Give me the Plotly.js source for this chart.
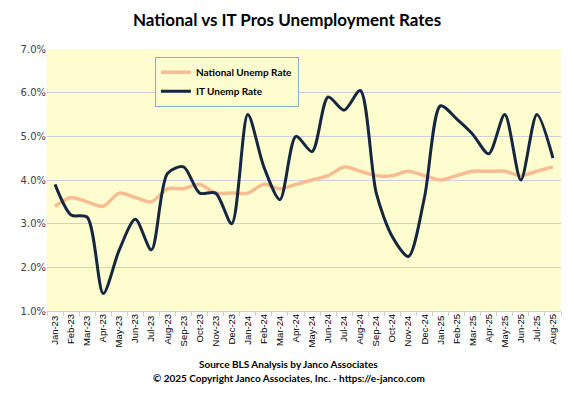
<!DOCTYPE html>
<html><head><meta charset="utf-8">
<script src="https://cdn.plot.ly/plotly-3.0.1.min.js"></script>
<style>html,body{margin:0;padding:0;background:#fff}</style>
</head><body><div id="chart" style="width:574px;height:397px"></div>
<script>
const months = ["Jan-23","Feb-23","Mar-23","Apr-23","May-23","Jun-23","Jul-23","Aug-23","Sep-23","Oct-23","Nov-23","Dec-23",
"Jan-24","Feb-24","Mar-24","Apr-24","May-24","Jun-24","Jul-24","Aug-24","Sep-24","Oct-24","Nov-24","Dec-24",
"Jan-25","Feb-25","Mar-25","Apr-25","May-25","Jun-25","Jul-25","Aug-25"];
const nationalRate = [3.4,3.6,3.5,3.4,3.7,3.6,3.5,3.8,3.8,3.9,3.7,3.7,
3.7,3.9,3.8,3.9,4.0,4.1,4.3,4.2,4.1,4.1,4.2,4.1,
4.0,4.1,4.2,4.2,4.2,4.1,4.2,4.3];
const itRate = [3.9,3.2,3.15,1.4,2.4,3.1,2.4,4.15,4.3,3.7,3.7,3.0,
5.5,4.3,3.55,5.0,4.65,5.9,5.6,6.05,3.7,2.7,2.25,3.6,
5.7,5.4,5.05,4.6,5.5,4.0,5.5,4.5];

const idx = months.map((m, i) => i);
const evenIdx = idx.filter(i => i % 2 === 0);
const oddIdx = idx.filter(i => i % 2 === 1);
const traces = [
 {x: idx, y: nationalRate, name: "<b>National Unemp Rate</b>", type: "scatter", mode: "lines", xaxis: "x",
  line: {color: "#F7BC92", width: 3.5, shape: "spline", smoothing: 0.8}},
 {x: idx, y: itRate, name: "<b>IT Unemp Rate</b>", type: "scatter", mode: "lines", xaxis: "x2",
  line: {color: "#142640", width: 3, shape: "spline", smoothing: 0.8}}
];
const tickFont = {family: "'Liberation Sans', Arial, sans-serif", size: 9.5, color: "#000"};
const layout = {
 width: 574, height: 397,
 margin: {l: 47, r: 13, t: 49, b: 86},
 paper_bgcolor: "#ffffff", plot_bgcolor: "#FEFDCF",
 title: {text: "<b>National vs IT Pros Unemployment Rates</b>", x: 0.5, xanchor: "center", y: 0.95, yanchor: "middle",
  font: {family: "Lato, 'Open Sans', sans-serif", size: 17, color: "#000"}},
 showlegend: true,
 legend: {x: 0.21, y: 0.97, xanchor: "left", yanchor: "top", bgcolor: "#FEFDCF", bordercolor: "#8FA9D6", borderwidth: 1,
  font: {family: "Lato, sans-serif", size: 10, color: "#000"}, tracegroupgap: 0, itemwidth: 30, traceorder: "normal"},
 xaxis: {type: "linear", tickmode: "array", tickvals: evenIdx, ticktext: evenIdx.map(i => months[i]), tickangle: -90, showgrid: false,
  showline: true, linecolor: "#d0d0d0", zeroline: false,
  ticks: "", range: [-0.5, 31.5],
  minor: {tickmode: "linear", tick0: 0.5, dtick: 1, ticks: "outside", ticklen: 4, tickcolor: "#d0d0d0", showgrid: false},
  tickfont: tickFont},
 xaxis2: {type: "linear", overlaying: "x", side: "bottom", matches: "x", tickmode: "array", tickvals: oddIdx, ticktext: oddIdx.map(i => months[i]),
  tickangle: -90, showgrid: false, showline: false, zeroline: false, ticks: "", range: [-0.5, 31.5],
  tickfont: tickFont},
 yaxis: {range: [1, 7], dtick: 1, tickformat: ".1f", ticksuffix: "%", showgrid: true, gridcolor: "#CFCFDB", gridwidth: 1,
  zeroline: false, showline: false, ticks: "",
  tickfont: {family: "'DejaVu Sans', sans-serif", size: 10, color: "#404040"}},
 annotations: [
  {text: "<b>Source BLS Analysis by Janco Associates</b>", xref: "paper", yref: "paper", x: 0.47, y: -0.2, yshift: -1,
   xanchor: "center", yanchor: "middle", showarrow: false, font: {family: "Lato, sans-serif", size: 10, color: "#000"}},
  {text: "<b>© 2025 Copyright Janco Associates, Inc. - https://e-janco.com</b>", xref: "paper", yref: "paper", x: 0.47, y: -0.2, yshift: -15,
   xanchor: "center", yanchor: "middle", showarrow: false, font: {family: "Lato, sans-serif", size: 10, color: "#000"}}
 ]
};
Plotly.newPlot("chart", traces, layout, {displayModeBar: false, staticPlot: true});
</script></body></html>
